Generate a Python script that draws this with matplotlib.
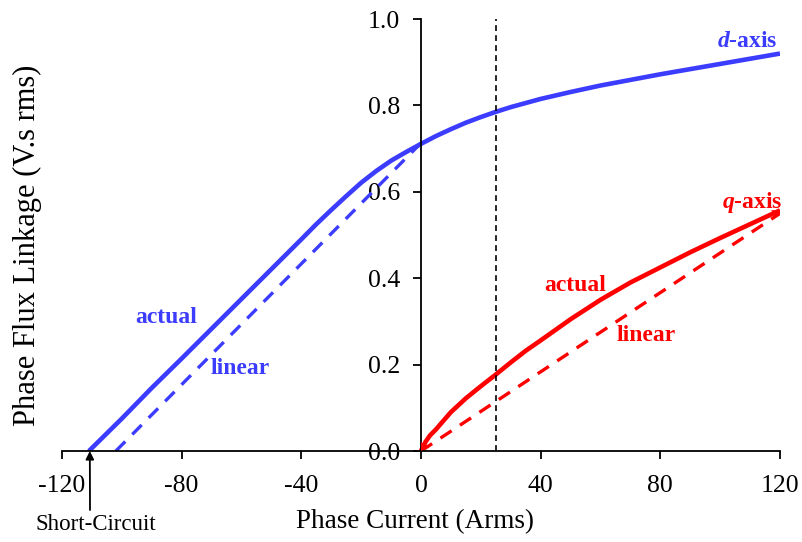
import matplotlib
matplotlib.use("Agg")
import matplotlib.pyplot as plt

plt.rcParams['font.family'] = ['Liberation Serif', 'DejaVu Serif']
plt.rcParams['axes.unicode_minus'] = False
plt.rcParams['mathtext.fontset'] = 'custom'
plt.rcParams['mathtext.it'] = 'Liberation Serif:italic:bold'
plt.rcParams['mathtext.rm'] = 'Liberation Serif:bold'

# Data
d_actual_x = [-111, -100, -90, -80, -70, -60, -50, -40, -35, -30, -25, -20, -15, -10, -5, 0,
              5, 10, 15, 20, 25, 30, 40, 50, 60, 70, 80, 90, 100, 110, 120]
d_actual_y = [0.0, 0.075, 0.146, 0.214, 0.283, 0.352, 0.421, 0.49, 0.525, 0.558, 0.59, 0.621, 0.648, 0.672, 0.692, 0.711,
              0.729, 0.745, 0.76, 0.773, 0.785, 0.796, 0.815, 0.831, 0.846, 0.859, 0.872, 0.884, 0.896, 0.908, 0.92]
d_linear_x = [-102, 0]
d_linear_y = [0.0, 0.713]
q_actual_x = [0, 1.5, 3, 5, 7.5, 10, 15, 20, 25, 30, 35, 40, 50, 60, 70, 80, 90, 100, 110, 120]
q_actual_y = [0.0, 0.021, 0.036, 0.05, 0.07, 0.09, 0.122, 0.15, 0.177, 0.205, 0.232, 0.256, 0.305, 0.35, 0.39,
              0.425, 0.46, 0.493, 0.525, 0.557]
q_linear_x = [0, 120]
q_linear_y = [0.0, 0.55]
marker_x = 25
xticks = [-120, -80, -40, 0, 40, 80, 120]
yticks = [0.0, 0.2, 0.4, 0.6, 0.8, 1.0]

W, H = 803, 542
fig = plt.figure(figsize=(W/100, H/100), dpi=100)
L, R, T, B = 62, 780, 19, 451
ax = fig.add_axes([L/W, 1 - B/H, (R-L)/W, (B-T)/H])

blue = '#3c3cff'
red = '#ff0000'

ax.plot(d_actual_x, d_actual_y, color=blue, lw=3.3, solid_capstyle='butt', solid_joinstyle='round')
ax.plot(d_linear_x, d_linear_y, color=blue, lw=2.4, ls=(0, (4, 3)))
ax.plot(q_actual_x, q_actual_y, color=red, lw=3.3, solid_capstyle='butt', solid_joinstyle='round')
ax.plot(q_linear_x, q_linear_y, color=red, lw=2.4, ls=(0, (4, 3)))
ax.plot([marker_x, marker_x], [0, 1.0], color='black', lw=1.2, ls=(0, (3.5, 2.5)))

# small arrowheads at the ends of the red actual curve
for tip, tail in [((q_actual_x[-1], q_actual_y[-1]), (q_actual_x[-2], q_actual_y[-2])),
                  ((q_actual_x[0], q_actual_y[0]), (q_actual_x[1], q_actual_y[1]))]:
    ax.annotate('', xy=tip, xytext=tail,
                arrowprops=dict(arrowstyle='-|>', color=red, lw=0, mutation_scale=14,
                                shrinkA=0, shrinkB=0))

ax.set_xlim(-120, 120)
ax.set_ylim(0, 1.0)
ax.spines['left'].set_position(('data', 0))
ax.spines['top'].set_visible(False)
ax.spines['right'].set_visible(False)
for s in ['left', 'bottom']:
    ax.spines[s].set_linewidth(1.3)
ax.set_xticks(xticks)
ax.set_xticklabels([str(v) for v in xticks])
ax.set_yticks(yticks)
ax.set_yticklabels([f"{v:.1f}" for v in yticks])
ax.tick_params(axis='both', direction='out', length=6, width=1.3, labelsize=18.5)
ax.tick_params(axis='x', pad=11)
ax.tick_params(axis='y', pad=9)

bold = dict(fontsize=17, fontweight='bold')
ax.text(-85.1, 0.309, 'actual', color=blue, ha='center', va='center', **bold)
ax.text(-60.4, 0.192, 'linear', color=blue, ha='center', va='center', **bold)
ax.text(51.7, 0.383, 'actual', color=red, ha='center', va='center', **bold)
ax.text(75.4, 0.268, 'linear', color=red, ha='center', va='center', **bold)
ax.text(119.2, 0.947, r'$\mathit{d}$-axis', color=blue, ha='right', va='center', **bold)
ax.text(120.9, 0.575, r'$\mathit{q}$-axis', color=red, ha='right', va='center', **bold)

fig.text(415/W, 1 - 522/H, 'Phase Current (Arms)', ha='center', va='center', fontsize=19.5)
fig.text(27/W, 1 - 245/H, 'Phase Flux Linkage (V.s rms)', ha='center', va='center', rotation=90, fontsize=22)
fig.text(96/W, 1 - 524/H, 'Short-Circuit', ha='center', va='center', fontsize=16.5)
ax.annotate('', xy=(d_actual_x[0] + 0.3, 0), xytext=(90, H - 510), textcoords='figure pixels',
            arrowprops=dict(arrowstyle='-|>', color='black', lw=1.3, mutation_scale=12,
                            shrinkA=0, shrinkB=0))

fig.savefig('out.png', dpi=100)
